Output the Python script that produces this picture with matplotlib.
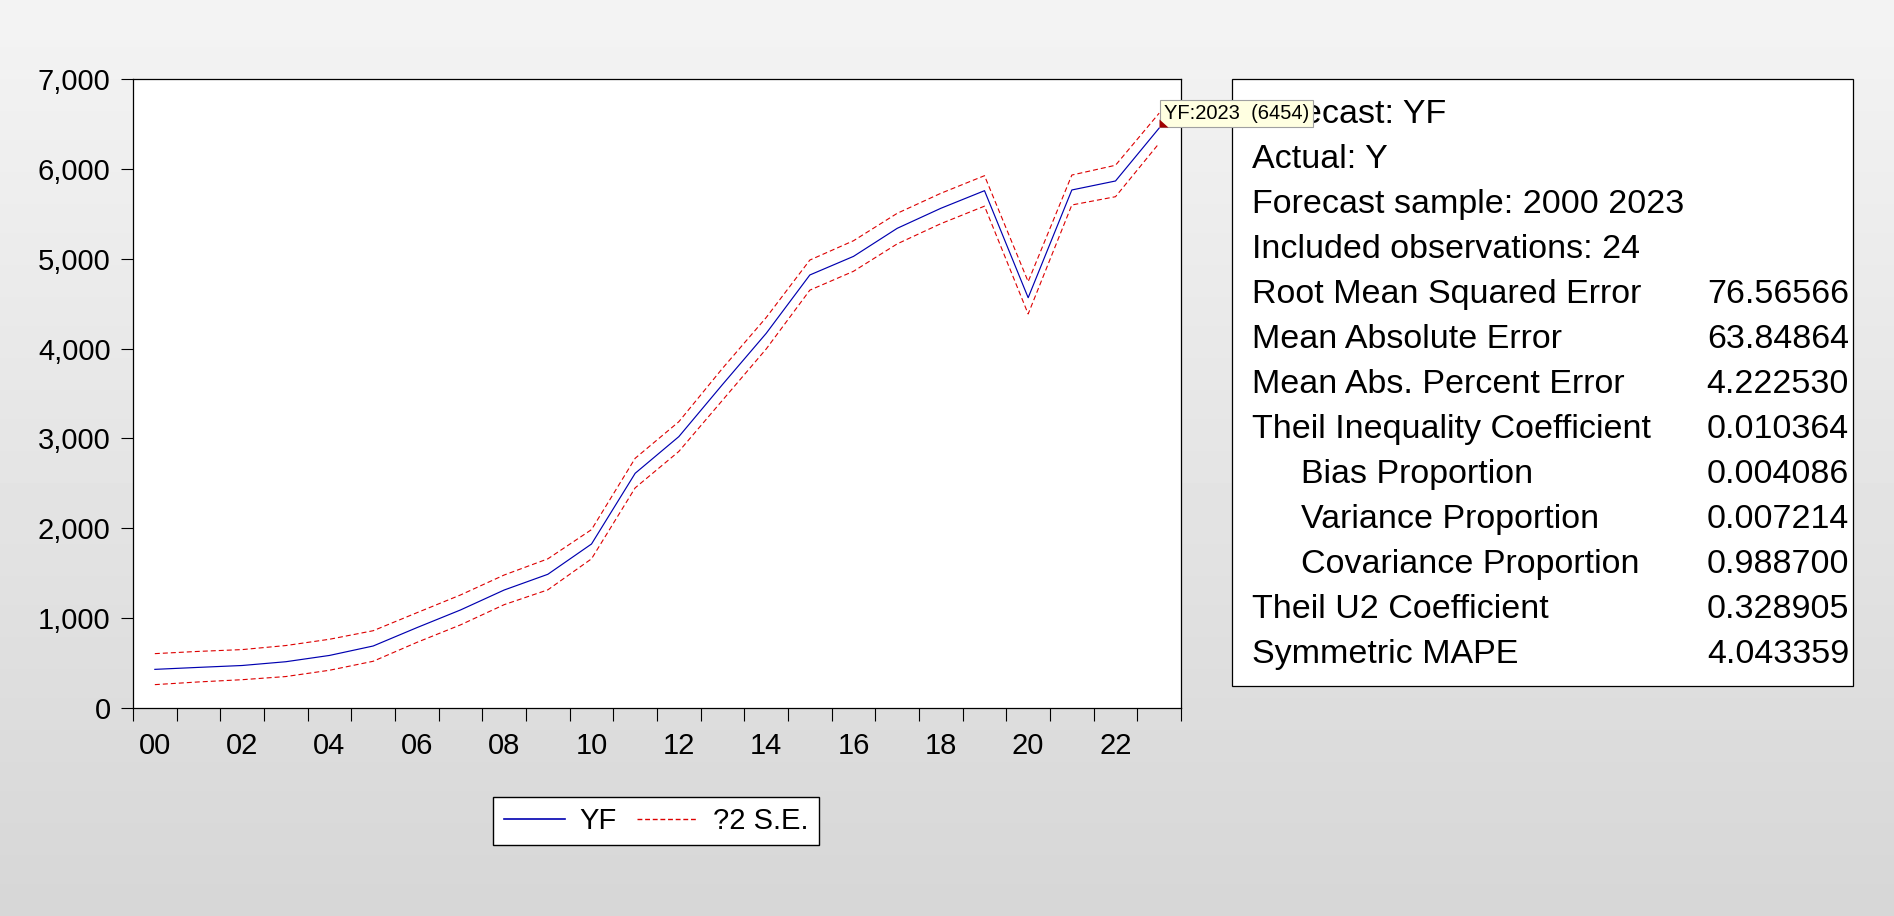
import numpy as np
import matplotlib
matplotlib.use('Agg')
import matplotlib.pyplot as plt
from matplotlib.patches import Rectangle
from matplotlib.lines import Line2D
from matplotlib.ticker import FuncFormatter

plt.rcParams['font.family'] = ['Liberation Sans', 'DejaVu Sans']

# ---------------- data ----------------
years = list(range(2000, 2024))
yf = [430, 452, 473, 515, 585, 690, 894, 1091, 1313, 1488, 1825, 2612,
      3020, 3600, 4169, 4819, 5026, 5338, 5561, 5757, 4566, 5765, 5865, 6454]
upper = [605, 630, 650, 695, 765, 860, 1060, 1258, 1480, 1660, 1985, 2779,
         3186, 3780, 4345, 4985, 5200, 5505, 5728, 5924, 4745, 5931, 6040, 6620]
lower = [260, 290, 315, 350, 420, 520, 730, 925, 1150, 1315, 1660, 2450,
         2855, 3425, 3995, 4650, 4860, 5165, 5390, 5585, 4385, 5598, 5690, 6285]
label_years = years[::2]
xtick_labels = ['00', '02', '04', '06', '08', '10', '12', '14', '16', '18', '20', '22']
yticks = [0, 1000, 2000, 3000, 4000, 5000, 6000, 7000]

stat_labels = ['Forecast: YF', 'Actual: Y', 'Forecast sample: 2000 2023',
               'Included observations: 24', 'Root Mean Squared Error',
               'Mean Absolute Error', 'Mean Abs. Percent Error',
               'Theil Inequality Coefficient', 'Bias Proportion',
               'Variance Proportion', 'Covariance Proportion',
               'Theil U2 Coefficient', 'Symmetric MAPE']
stat_values = ['', '', '', '', '76.56566', '63.84864', '4.222530', '0.010364',
               '0.004086', '0.007214', '0.988700', '0.328905', '4.043359']
stat_indent = [False] * 8 + [True, True, True] + [False, False]
tooltip_text = 'YF:2023  (6454)'

# ---------------- layout ----------------
W, H = 1894, 916
fig = plt.figure(figsize=(W / 100, H / 100), dpi=100)


def fx(px):
    return px / W


def fy(py):
    return 1 - py / H


# gradient background
bg = fig.add_axes([0, 0, 1, 1], zorder=-10)
grad = np.linspace(0.955, 0.84, 256).reshape(-1, 1)
bg.imshow(grad, cmap='gray', vmin=0, vmax=1, aspect='auto',
          extent=[0, 1, 0, 1], origin='upper')
bg.axis('off')

# main axes
ax = fig.add_axes([fx(133), fy(708), fx(1181) - fx(133), fy(79) - fy(708)], zorder=5)
ax.set_facecolor('white')
blue = '#0000B0'
red = '#DD0000'
ax.plot(years, yf, color=blue, lw=0.85)
ax.plot(years, upper, color=red, lw=0.8, ls=(0, (4.5, 2.7)))
ax.plot(years, lower, color=red, lw=0.8, ls=(0, (4.5, 2.7)))
ax.set_xlim(years[0] - 0.5, years[-1] + 0.5)
ax.set_ylim(yticks[0], yticks[-1])

ax.set_xticks(np.arange(years[0] - 0.5, years[-1] + 1, 1))
ax.set_xticklabels([])
ax.set_xticks(label_years, minor=True)
ax.set_xticklabels(xtick_labels, minor=True)
ax.tick_params(axis='x', which='major', direction='out', length=9.5, width=0.8)
ax.tick_params(axis='x', which='minor', length=0, pad=17, labelsize=21)
ax.set_yticks(yticks)
ax.yaxis.set_major_formatter(FuncFormatter(lambda v, p: f'{int(v):,}'))
ax.tick_params(axis='y', direction='out', length=8.6, width=0.8, pad=7.5, labelsize=21)
for s in ax.spines.values():
    s.set_linewidth(0.9)
    s.set_color('black')

# tooltip annotation at last forecast point
ax.plot([years[-1]], [yf[-1]], linestyle='none',
        marker=[(0, 0.1), (0, 1.0), (1.0, 0.1), (0, 0.1)],
        markersize=13, color='#A00000', markeredgewidth=0, zorder=25, clip_on=False)
ax.annotate(tooltip_text, xy=(years[-1], yf[-1]), xycoords='data',
            xytext=(4.5, 5), textcoords='offset pixels', ha='left', va='bottom',
            fontsize=14.5, color='black', annotation_clip=False, zorder=20,
            bbox=dict(boxstyle='square,pad=0.2', fc='#FFFFE1', ec='#A0A0A0', lw=0.8))

# stats box
fig.add_artist(Rectangle((fx(1232), fy(686)), fx(1853) - fx(1232), fy(79) - fy(686),
                         transform=fig.transFigure, facecolor='white',
                         edgecolor='black', lw=0.9, zorder=1))
for i, (lab, val, ind) in enumerate(zip(stat_labels, stat_values, stat_indent)):
    yb = fy(123 + 45 * i)
    fig.text(fx(1301 if ind else 1252), yb, lab, fontsize=24.5, va='baseline',
             ha='left', zorder=2)
    if val:
        fig.text(fx(1849), yb, val, fontsize=24.5, va='baseline', ha='right', zorder=2)

# legend
handles = [Line2D([], [], color=blue, lw=1.2),
           Line2D([], [], color=red, lw=1.0, ls=(0, (3.5, 2)))]
leg = fig.legend(handles, ['YF', '?2 S.E.'], loc='center',
                 bbox_to_anchor=(fx(656), fy(821)), ncol=2, fontsize=21,
                 frameon=True, fancybox=False, edgecolor='black', facecolor='white',
                 framealpha=1, handlelength=2.1, handletextpad=0.5,
                 columnspacing=0.7, borderpad=0.35)
leg.get_frame().set_linewidth(1.0)

fig.savefig('out.png', dpi=100)
